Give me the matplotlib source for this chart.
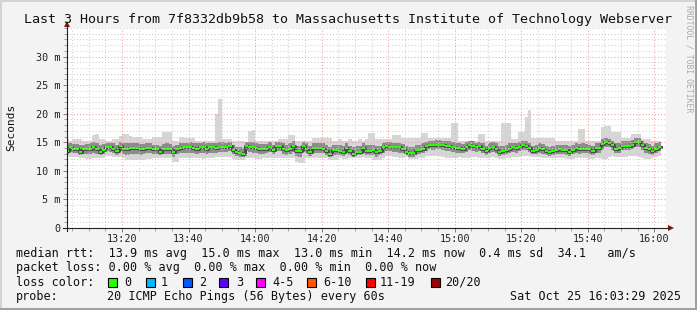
import numpy as np
import matplotlib
matplotlib.use("Agg")
import matplotlib.pyplot as plt
from matplotlib.patches import Rectangle, Polygon
from matplotlib.lines import Line2D

# ---------------- data (ms, one value per minute starting 13:03) ----------------
median_ms = [
    13.4, 14.2, 13.9, 13.9, 13.3, 13.8, 13.8, 13.8, 14.1, 13.8, 13.3, 13.7, 14.2, 14.2, 13.9,
    13.5, 14.4, 13.9, 13.9, 14.0, 14.0, 14.0, 13.8, 13.8, 14.0, 14.0, 13.8, 13.8, 13.3, 13.8,
    13.8, 13.8, 13.3, 13.8, 14.0, 14.1, 14.1, 14.1, 14.0, 13.9, 14.1, 14.2, 13.9, 14.1, 14.1,
    14.0, 14.1, 14.2, 14.2, 14.3, 13.6, 13.3, 13.2, 13.0, 14.4, 14.2, 14.1, 14.0, 13.9, 13.8,
    13.9, 14.2, 13.7, 14.3, 14.3, 13.9, 13.6, 13.9, 14.3, 13.4, 13.4, 14.3, 13.9, 13.3, 14.0,
    14.0, 14.0, 13.9, 13.5, 13.0, 13.7, 13.7, 13.5, 13.3, 14.0, 13.4, 13.0, 13.3, 13.3, 14.0,
    13.5, 13.4, 13.6, 13.3, 13.5, 14.1, 14.4, 14.2, 14.1, 14.1, 14.1, 13.9, 13.3, 13.2, 13.1,
    13.6, 13.7, 13.9, 14.3, 14.6, 14.5, 14.6, 14.6, 14.5, 14.4, 14.3, 14.2, 14.0, 14.0, 13.9,
    14.2, 14.6, 14.4, 14.1, 14.3, 13.9, 13.5, 14.0, 14.2, 13.9, 13.3, 13.4, 13.6, 13.9, 14.1,
    14.0, 14.2, 14.5, 14.4, 14.0, 13.5, 13.7, 14.0, 13.8, 13.4, 13.3, 13.4, 13.6, 13.8, 13.7,
    13.6, 13.3, 13.7, 14.0, 13.8, 13.9, 13.9, 13.8, 13.4, 14.0, 14.0, 14.7, 15.0, 14.9, 14.5,
    13.9, 14.0, 14.4, 14.4, 14.4, 14.6, 15.0, 15.0, 14.5, 14.0, 13.8, 13.4, 13.9, 14.2,
]
ping_max = [
    15.6, 15.3, 15.6, 15.6, 15.6, 15.3, 15.3, 15.3, 16.3, 16.4, 15.6, 15.6, 15.3, 15.3, 15.6,
    15.6, 16.1, 16.4, 16.4, 16.1, 15.9, 15.9, 15.9, 15.5, 15.5, 15.5, 15.9, 15.9, 15.9, 16.8,
    16.8, 16.8, 15.3, 15.3, 15.9, 15.9, 15.8, 15.8, 15.8, 15.3, 15.3, 15.3, 15.3, 15.3, 15.3,
    20.0, 22.5, 15.6, 15.6, 15.6, 15.3, 15.3, 15.3, 15.3, 15.1, 16.9, 17.1, 15.3, 15.3, 15.3,
    15.2, 15.2, 15.2, 15.2, 15.6, 15.6, 15.6, 16.2, 16.2, 15.3, 15.3, 15.3, 15.3, 15.3, 15.8,
    15.8, 15.8, 15.8, 15.8, 15.8, 15.3, 15.3, 15.6, 15.3, 15.3, 15.6, 15.3, 15.3, 15.6, 15.3,
    15.6, 16.7, 16.7, 15.6, 15.6, 15.6, 15.6, 15.6, 16.2, 16.2, 16.2, 15.8, 15.8, 15.8, 15.8,
    15.8, 15.8, 16.7, 16.7, 15.8, 15.8, 15.8, 15.8, 15.8, 15.8, 15.8, 18.3, 18.3, 15.3, 15.3,
    15.3, 15.3, 15.3, 15.3, 16.5, 16.5, 15.3, 15.3, 15.3, 15.3, 15.3, 18.4, 18.4, 18.4, 15.6,
    15.6, 16.8, 16.8, 19.4, 20.6, 15.8, 15.8, 15.8, 15.8, 15.8, 15.8, 15.8, 15.3, 15.3, 15.3,
    15.3, 15.3, 15.3, 15.3, 17.4, 17.4, 15.3, 15.3, 15.3, 15.3, 15.3, 17.7, 17.8, 17.8, 16.8,
    16.8, 16.8, 15.8, 15.8, 15.8, 16.5, 16.5, 16.5, 15.5, 15.5, 15.5, 15.3, 15.3, 15.3,
]
ping_min = [
    12.6, 12.4, 12.4, 12.4, 12.3, 12.2, 12.1, 12.1, 12.2, 12.2, 12.3, 12.3, 12.6, 12.6, 12.4,
    12.4, 12.4, 12.2, 11.9, 11.9, 11.9, 11.9, 11.9, 11.9, 12.1, 12.1, 12.3, 12.3, 12.3, 12.3,
    12.3, 12.3, 11.6, 11.6, 12.3, 12.3, 12.3, 12.3, 12.3, 12.3, 12.2, 12.0, 12.2, 12.3, 12.3,
    12.5, 12.5, 12.5, 12.4, 12.4, 12.0, 11.9, 11.9, 11.9, 12.3, 12.3, 12.2, 12.1, 12.1, 12.3,
    12.3, 12.3, 12.3, 12.3, 12.3, 12.2, 12.2, 12.3, 12.3, 11.6, 11.3, 11.3, 12.3, 12.3, 12.3,
    12.3, 12.3, 12.3, 12.3, 11.9, 11.9, 11.9, 12.3, 12.0, 12.0, 12.2, 12.3, 12.3, 12.3, 12.4,
    12.3, 12.3, 11.9, 11.9, 11.9, 12.3, 12.6, 12.6, 12.5, 12.5, 12.3, 12.3, 12.5, 12.1, 12.1,
    12.1, 12.3, 12.3, 12.6, 12.6, 12.6, 12.6, 12.6, 12.4, 12.2, 12.2, 12.3, 12.3, 12.4, 12.2,
    12.2, 12.2, 12.4, 12.4, 12.3, 12.3, 12.3, 12.3, 12.4, 12.2, 12.1, 12.1, 12.3, 12.3, 12.4,
    12.4, 12.4, 12.6, 12.6, 12.6, 12.5, 12.5, 12.5, 12.3, 12.3, 12.3, 12.3, 12.3, 12.3, 12.3,
    12.1, 12.1, 12.1, 12.3, 12.3, 12.3, 12.2, 12.0, 12.0, 12.3, 12.3, 12.1, 12.1, 12.5, 12.6,
    12.5, 12.5, 12.5, 12.5, 12.6, 12.6, 12.6, 12.5, 12.3, 12.1, 12.1, 12.2, 12.4, 12.6,
]
band_hi = [
    14.8, 14.9, 14.7, 14.7, 14.5, 14.6, 14.7, 14.8, 15.0, 14.9, 14.6, 14.7, 14.9, 14.9, 14.8,
    14.6, 15.0, 14.9, 14.8, 14.9, 14.8, 14.9, 14.7, 14.7, 14.8, 14.8, 14.6, 14.6, 14.4, 14.7,
    14.8, 14.7, 14.3, 14.6, 14.8, 14.9, 14.9, 15.0, 14.9, 14.8, 14.9, 15.0, 14.8, 14.9, 14.9,
    14.9, 15.1, 15.0, 14.9, 15.0, 14.5, 14.2, 14.1, 14.0, 15.1, 15.0, 15.0, 14.8, 14.7, 14.7,
    14.7, 15.0, 14.6, 15.1, 15.1, 14.8, 14.5, 14.8, 15.2, 14.4, 14.3, 15.1, 14.8, 14.3, 14.8,
    14.8, 14.9, 14.8, 14.5, 14.1, 14.6, 14.6, 14.5, 14.3, 14.8, 14.4, 14.1, 14.3, 14.3, 14.8,
    14.5, 14.6, 14.6, 14.3, 14.4, 14.9, 15.1, 15.0, 14.9, 14.9, 14.9, 14.7, 14.3, 14.2, 14.1,
    14.5, 14.6, 14.8, 15.1, 15.3, 15.3, 15.4, 15.4, 15.3, 15.2, 15.2, 15.1, 14.9, 14.8, 14.7,
    15.0, 15.3, 15.2, 14.9, 15.1, 14.8, 14.4, 14.8, 15.0, 14.8, 14.3, 14.4, 14.6, 14.8, 14.9,
    14.8, 15.0, 15.3, 15.2, 14.9, 14.4, 14.6, 14.8, 14.7, 14.3, 14.2, 14.3, 14.5, 14.6, 14.6,
    14.5, 14.3, 14.6, 14.8, 14.7, 14.8, 14.7, 14.6, 14.4, 14.8, 14.9, 15.5, 15.7, 15.6, 15.3,
    14.8, 14.9, 15.2, 15.2, 15.2, 15.4, 15.7, 15.7, 15.3, 14.9, 14.7, 14.4, 14.8, 15.0,
]
band_lo = [
    12.9, 13.3, 13.1, 13.1, 12.8, 13.0, 12.9, 12.9, 13.2, 13.0, 12.7, 12.9, 13.4, 13.3, 13.1,
    12.8, 13.4, 13.0, 12.8, 12.9, 12.9, 12.9, 12.8, 12.9, 13.1, 13.1, 12.9, 12.9, 12.7, 12.9,
    12.9, 12.9, 12.5, 12.9, 13.2, 13.2, 13.2, 13.2, 13.1, 13.0, 13.1, 13.2, 13.0, 13.2, 13.2,
    13.2, 13.3, 13.3, 13.3, 13.4, 12.9, 12.6, 12.5, 12.4, 13.5, 13.3, 13.2, 13.1, 13.0, 13.0,
    13.1, 13.3, 12.9, 13.4, 13.4, 13.0, 12.8, 13.0, 13.3, 12.6, 12.4, 13.3, 13.1, 12.6, 13.1,
    13.1, 13.1, 13.1, 12.7, 12.4, 12.8, 12.8, 12.8, 12.6, 13.1, 12.8, 12.5, 12.7, 12.7, 13.1,
    12.8, 12.7, 12.7, 12.5, 12.7, 13.2, 13.5, 13.4, 13.3, 13.3, 13.2, 13.1, 12.7, 12.5, 12.5,
    12.8, 12.9, 13.1, 13.5, 13.8, 13.7, 13.8, 13.8, 13.6, 13.5, 13.4, 13.3, 13.2, 13.2, 13.1,
    13.3, 13.7, 13.5, 13.3, 13.4, 13.1, 12.8, 13.2, 13.3, 13.1, 12.6, 12.7, 12.9, 13.1, 13.3,
    13.2, 13.4, 13.6, 13.6, 13.3, 12.9, 13.0, 13.2, 13.0, 12.7, 12.6, 12.7, 12.9, 13.0, 13.0,
    12.8, 12.6, 12.9, 13.2, 13.0, 13.1, 13.1, 13.0, 12.7, 13.2, 13.2, 13.8, 14.1, 14.1, 13.7,
    13.1, 13.2, 13.6, 13.6, 13.6, 13.8, 14.2, 14.2, 13.7, 13.2, 13.0, 12.8, 13.2, 13.5,
]

x_tick_minutes = [20, 40, 60, 80, 100, 120, 140, 160, 180]   # minutes after 13:00
x_tick_labels = ["13:20", "13:40", "14:00", "14:20", "14:40", "15:00", "15:20", "15:40", "16:00"]
y_ticks = [0, 5, 10, 15, 20, 25, 30]
y_tick_labels = ["0", "5 m", "10 m", "15 m", "20 m", "25 m", "30 m"]

title = "Last 3 Hours from 7f8332db9b58 to Massachusetts Institute of Technology Webserver"
rtt_values = ["13.9", "15.0", "13.0", "14.2", "0.4", "34.1"]
loss_values = ["0.00", "0.00", "0.00", "0.00"]
loss_labels = ["0", "1", "2", "3", "4-5", "6-10", "11-19", "20/20"]
loss_colors = ["#26ff00", "#00b8ff", "#0059ff", "#5e00ff", "#ff00ff", "#ff5500", "#ff0000", "#a00000"]
probe_text = "20 ICMP Echo Pings (56 Bytes) every 60s"
stamp_text = "Sat Oct 25 16:03:29 2025"

# ---------------- layout ----------------
W, H = 697, 310
MONO = "DejaVu Sans Mono"
fig = plt.figure(figsize=(W / 100, H / 100), dpi=100, facecolor="#f3f3f3")

L, R, T, B = 67, 666, 28, 228
ax = fig.add_axes([L / W, 1 - B / H, (R - L) / W, (B - T) / H])
ax.set_facecolor("white")

def fx(px):
    return px / W

def fy(py):
    return 1 - py / H

n = len(median_ms)
edges = 3 + np.arange(n + 1)

def ext(a):
    return np.append(np.asarray(a, float), a[-1])

ax.fill_between(edges, ext(ping_min), ext(ping_max), step="post", color="#d6d6d6", lw=0, zorder=1)
ax.fill_between(edges, ext(band_lo), ext(band_hi), step="post", color="#8c8c8c", lw=0, zorder=1.2)
ax.step(edges, ext(median_ms), where="post", color="#4a4a4a", lw=2.2, zorder=1.5)
ax.hlines(median_ms, edges[:-1], edges[1:], color="#26ff00", lw=1.5, zorder=2)

ax.set_xlim(3 + 29 / 60, 183 + 29 / 60)
ax.set_ylim(0, 35)
ax.set_xticks(x_tick_minutes)
ax.set_xticklabels(x_tick_labels)
ax.set_xticks(np.arange(5, 185, 5), minor=True)
ax.set_yticks(y_ticks)
ax.set_yticklabels(y_tick_labels)
ax.set_yticks(np.arange(1, 36, 1), minor=True)

ax.set_axisbelow(False)
ax.grid(which="major", color="#f0a0a0", linestyle=(0, (1, 2)), lw=0.75)
ax.grid(which="minor", color="#cfcfcf", linestyle=(0, (1, 2)), lw=0.75)
ax.tick_params(which="major", direction="out", length=3, width=0.7, color="#808080",
               labelsize=7.3, pad=2)
ax.tick_params(axis="x", which="major", pad=1)
ax.tick_params(which="minor", direction="out", length=2, width=0.7, color="#a0a0a0")
for lab in ax.get_xticklabels() + ax.get_yticklabels():
    lab.set_family(MONO)
    lab.set_color("#222222")
for s in ax.spines.values():
    s.set_visible(False)

# axes lines with arrows
fig.add_artist(Line2D([fx(67), fx(67)], [fy(231), fy(25)], color="#222222", lw=0.8))
fig.add_artist(Line2D([fx(63), fx(668)], [fy(228), fy(228)], color="#222222", lw=0.8))
fig.add_artist(Polygon([[fx(64), fy(27)], [fx(70), fy(27)], [fx(67), fy(21)]],
                       closed=True, color="#8b1010", lw=0))
fig.add_artist(Polygon([[fx(668), fy(225)], [fx(668), fy(231)], [fx(674), fy(228)]],
                       closed=True, color="#8b1010", lw=0))

# texts
fig.text(0.5, fy(19), title, ha="center", va="center", family=MONO, size=9.6, color="#111111")
fig.text(fx(11), fy(127), "Seconds", rotation=90, ha="center", va="center",
         family=MONO, size=8, color="#111111")
fig.text(fx(689), fy(59), "RRDTOOL / TOBI OETIKER", rotation=270, ha="center", va="center",
         family=MONO, size=5.9, color="#aaaaaa")

LS = 8.5
row1 = ("median rtt:  {} ms avg  {} ms max  {} ms min  {} ms now  {} ms sd  {}   am/s"
        .format(*rtt_values))
row2 = "packet loss: {} % avg  {} % max  {} % min  {} % now".format(*loss_values)
fig.text(fx(16), fy(254), row1, ha="left", va="center", family=MONO, size=LS, color="#111111")
fig.text(fx(16), fy(268), row2, ha="left", va="center", family=MONO, size=LS, color="#111111")
fig.text(fx(16), fy(282), "loss color:", ha="left", va="center", family=MONO, size=LS, color="#111111")
box_x = [108, 146, 183, 219, 256, 307, 366, 431]
lab_x = [124, 161, 199, 236, 272, 323, 380, 445]
for bx, lx, lab, col in zip(box_x, lab_x, loss_labels, loss_colors):
    fig.add_artist(Rectangle((fx(bx), fy(286.5)), 9 / W, 9 / H, facecolor=col,
                             edgecolor="#000000", lw=0.8))
    fig.text(fx(lx), fy(282), lab, ha="left", va="center", family=MONO, size=LS, color="#111111")
fig.text(fx(16), fy(296.5), "probe:", ha="left", va="center", family=MONO, size=LS, color="#111111")
fig.text(fx(107), fy(296.5), probe_text, ha="left", va="center", family=MONO, size=LS, color="#111111")
fig.text(fx(681), fy(296.5), stamp_text, ha="right", va="center", family=MONO, size=LS, color="#111111")

# 3D frame
fig.add_artist(Rectangle((0, fy(2)), 1, 2 / H, facecolor="#d4d4d4", lw=0))
fig.add_artist(Rectangle((0, 0), fx(2), 1, facecolor="#d4d4d4", lw=0))
fig.add_artist(Rectangle((0, 0), 1, 2 / H, facecolor="#a0a0a0", lw=0))
fig.add_artist(Rectangle((fx(695), 0), fx(2), 1, facecolor="#a0a0a0", lw=0))

fig.savefig("out.png", dpi=100, facecolor=fig.get_facecolor())
